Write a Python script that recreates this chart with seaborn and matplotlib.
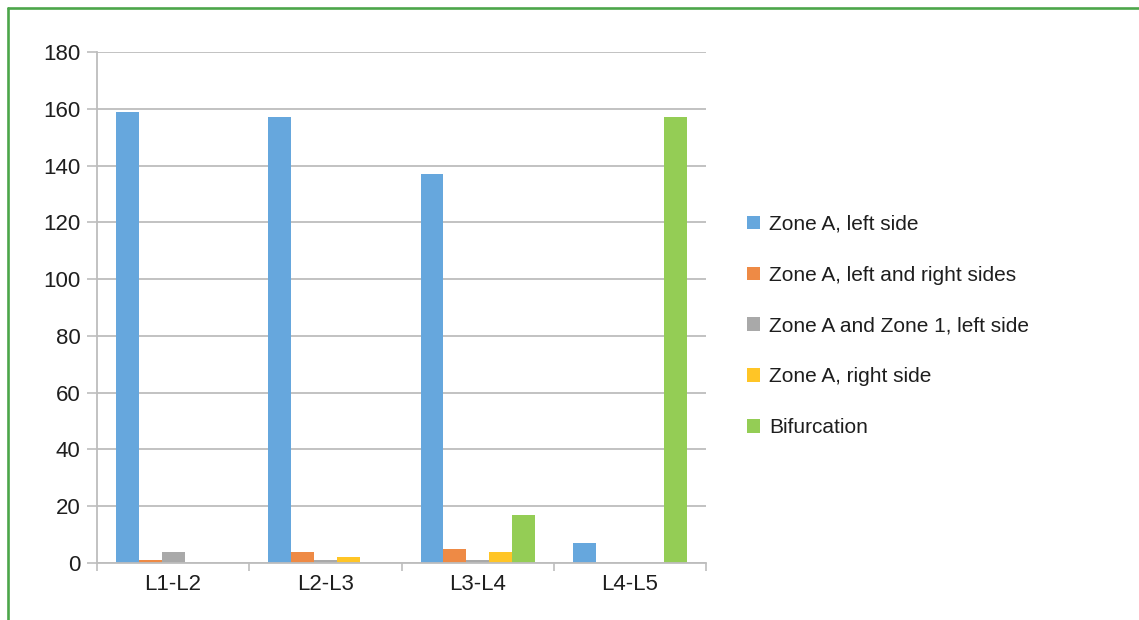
import matplotlib
matplotlib.use("Agg")
import matplotlib.pyplot as plt
from matplotlib.lines import Line2D
from matplotlib.ticker import FixedLocator, MultipleLocator
import pandas as pd
import seaborn as sns

# Lumbar levels and injury location counts
levels = ["L1-L2", "L2-L3", "L3-L4", "L4-L5"]
zone_a_left = [159, 157, 137, 7]
zone_a_left_right = [1, 4, 5, 0]
zone_a_zone1_left = [4, 1, 1, 0]
zone_a_right = [0, 2, 4, 0]
bifurcation = [0, 0, 17, 157]

series_names = [
    "Zone A, left side",
    "Zone A, left and right sides",
    "Zone A and Zone 1, left side",
    "Zone A, right side",
    "Bifurcation",
]
series_values = [zone_a_left, zone_a_left_right, zone_a_zone1_left,
                 zone_a_right, bifurcation]
colors = ["#66A7DD", "#EE8A45", "#A9A9A9", "#FFC526", "#94CD55"]

rows = []
for name, vals in zip(series_names, series_values):
    for lvl, v in zip(levels, vals):
        rows.append({"level": lvl, "series": name, "count": v})
df = pd.DataFrame(rows)

sns.set_theme(style="white")
plt.rcParams["font.family"] = ["Liberation Sans", "DejaVu Sans"]

W, H = 1139, 620
fig = plt.figure(figsize=(W / 100, H / 100), dpi=100)
ax = fig.add_axes([97 / W, 1 - 563 / H, (706 - 97) / W, (563 - 52) / H])

sns.barplot(data=df, x="level", y="count", hue="series", order=levels,
            hue_order=series_names, palette=colors, saturation=1,
            width=0.75, linewidth=0, ax=ax, legend=True, errorbar=None)

grid_col = "#BDBDBD"
ax.set_ylim(0, 180)
ax.set_xlim(-0.5, len(levels) - 0.5)
ax.yaxis.set_major_locator(MultipleLocator(20))
ax.yaxis.grid(True, color=grid_col, linewidth=1.3)
ax.set_axisbelow(True)
ax.set_xlabel("")
ax.set_ylabel("")

for side in ["top", "right"]:
    ax.spines[side].set_visible(False)
for side in ["left", "bottom"]:
    ax.spines[side].set_color(grid_col)
    ax.spines[side].set_linewidth(1.3)

text_col = "#1E1E1E"
ax.tick_params(axis="y", which="major", length=7, width=1.2, color=grid_col,
               labelsize=16, labelcolor=text_col, pad=5, left=True)
ax.tick_params(axis="x", which="major", length=0, labelsize=16,
               labelcolor=text_col, pad=8)
ax.xaxis.set_minor_locator(FixedLocator([i - 0.5 for i in range(len(levels) + 1)]))
ax.tick_params(axis="x", which="minor", length=6, width=1.2, color=grid_col,
               bottom=True)

handles, labels = ax.get_legend_handles_labels()
ax.legend_.remove()
fig.legend(handles, labels, loc="center left",
           bbox_to_anchor=(737 / W, 1 - 326 / H), frameon=False,
           fontsize=15, handlelength=0.62, handleheight=0.62,
           handletextpad=0.42, labelspacing=1.53, borderpad=0,
           labelcolor=text_col)

# Green frame along the top and left edges
frame_col = "#4CA64A"
fig.add_artist(Line2D([7.5 / W, 1], [1 - 8 / H, 1 - 8 / H],
                      transform=fig.transFigure, color=frame_col, lw=1.9))
fig.add_artist(Line2D([8 / W, 8 / W], [0, 1 - 8 / H],
                      transform=fig.transFigure, color=frame_col, lw=1.9))

fig.savefig("out.png", dpi=100, facecolor="white")
